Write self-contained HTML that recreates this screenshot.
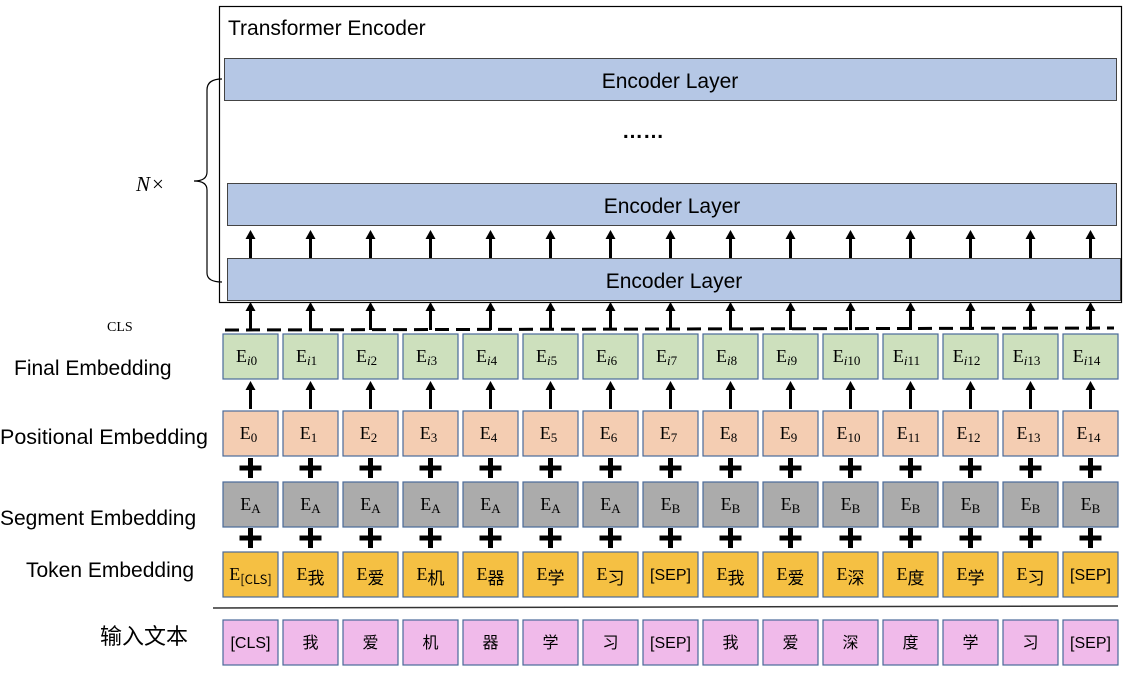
<!DOCTYPE html>
<html><head><meta charset="utf-8"><style>
html,body{margin:0;padding:0;background:#fff;width:1126px;height:677px;overflow:hidden}
svg text{font-family:"Liberation Serif","Noto Serif CJK SC",serif}
</style></head><body>
<svg width="1126" height="677" viewBox="0 0 1126 677" xmlns="http://www.w3.org/2000/svg">
<defs>
<g id="arr"><line x1="0" y1="28" x2="0" y2="8" stroke="#000" stroke-width="3"/><path d="M-5,9 L0,0 L5,9 z" fill="#000"/></g>
<g id="plus"><rect x="-11" y="-2.5" width="22" height="5" fill="#000"/><rect x="-2.5" y="-10" width="5" height="20" fill="#000"/></g>
</defs>
<rect x="219.5" y="6.5" width="902" height="296" fill="#fff" stroke="#000" stroke-width="1.2"/>
<text x="228" y="35" font-size="21" style="font-family:'Liberation Sans',sans-serif">Transformer Encoder</text>
<rect x="224.5" y="58.5" width="892" height="42" fill="#b5c7e5" stroke="#444" stroke-width="1"/>
<rect x="227.5" y="183.5" width="889" height="42" fill="#b5c7e5" stroke="#444" stroke-width="1"/>
<rect x="227.5" y="258.5" width="893" height="42" fill="#b5c7e5" stroke="#444" stroke-width="1"/>
<g font-size="21" text-anchor="middle">
<text x="670" y="88" style="font-family:'Liberation Sans',sans-serif">Encoder Layer</text>
<text x="672" y="213" style="font-family:'Liberation Sans',sans-serif">Encoder Layer</text>
<text x="674" y="288" style="font-family:'Liberation Sans',sans-serif">Encoder Layer</text>
<text x="643" y="138" font-weight="bold" style="font-family:'Liberation Sans',sans-serif">……</text>
</g>
<path d="M222,79 Q207,79 207,90 L207,172 Q207,181 194,181 Q207,181 207,190 L207,273 Q207,282 222,282" fill="none" stroke="#000" stroke-width="1.2"/>
<text x="136" y="191" font-size="21" font-style="italic">N</text><text x="152" y="191" font-size="21">×</text>
<text x="107" y="331" font-size="14">CLS</text>
<line x1="225" y1="330" x2="1114" y2="328" stroke="#000" stroke-width="3" stroke-dasharray="14,7"/>
<g font-size="21">
<text x="14" y="375" style="font-family:'Liberation Sans',sans-serif">Final Embedding</text>
<text x="0" y="444" font-size="21.5" style="font-family:'Liberation Sans',sans-serif">Positional Embedding</text>
<text x="0" y="525" style="font-family:'Liberation Sans',sans-serif">Segment Embedding</text>
<text x="26" y="577" style="font-family:'Liberation Sans',sans-serif">Token Embedding</text>
<text x="100" y="644" font-size="22" style="font-family:'Noto Sans CJK SC',sans-serif">输入文本</text>
</g>
<line x1="213" y1="608" x2="1118" y2="606" stroke="#333" stroke-width="1.5"/>
<g id="cols"></g>
</svg>
<script>
(function(){
var ns="http://www.w3.org/2000/svg",g=document.getElementById("cols");
function el(t,a,txt){var e=document.createElementNS(ns,t);for(var k in a)e.setAttribute(k,a[k]);if(txt!=null)e.textContent=txt;g.appendChild(e);return e;}
var tok=["[CLS]","我","爱","机","器","学","习","[SEP]","我","爱","深","度","学","习","[SEP]"];
for(var i=0;i<15;i++){
 var x=223+i*60,c=x+27.5;
 el("use",{href:"#arr",x:c,y:230});
 el("use",{href:"#arr",x:c,y:302});
 el("use",{href:"#arr",x:c,y:381});
 el("use",{href:"#plus",x:c,y:468});
 el("use",{href:"#plus",x:c,y:538});
 el("rect",{x:x,y:334,width:55,height:45,fill:"#cde0bd",stroke:"#4a6a9a","stroke-width":1.2});
 el("rect",{x:x,y:411,width:55,height:45,fill:"#f4cdb2",stroke:"#4a6a9a","stroke-width":1.2});
 el("rect",{x:x,y:482,width:55,height:45,fill:"#ababab",stroke:"#4a6a9a","stroke-width":1.2});
 el("rect",{x:x,y:552,width:55,height:45,fill:"#f5c043",stroke:"#4a6a9a","stroke-width":1.2});
 el("rect",{x:x,y:620,width:55,height:45,fill:"#f0baea",stroke:"#4a6a9a","stroke-width":1.2});
 var t=el("text",{x:c-4,y:362,"font-size":18,"text-anchor":"middle"});
 t.innerHTML='E<tspan font-size="13" dy="3"><tspan font-style="italic">i</tspan>'+i+'</tspan>';
 t=el("text",{x:c-2,y:439,"font-size":18,"text-anchor":"middle"});
 t.innerHTML='E<tspan font-size="13" dy="3">'+i+'</tspan>';
 t=el("text",{x:c,y:510,"font-size":18,"text-anchor":"middle"});
 t.innerHTML='E<tspan font-size="13" dy="3">'+(i<7?"A":"B")+'</tspan>';
 t=el("text",{x:c,y:580,"font-size":18,"text-anchor":"middle"});
 if(tok[i]=="[SEP]"){t.setAttribute("style","font-family:'Liberation Sans',sans-serif");t.setAttribute("font-size",16);t.textContent="[SEP]";}
 else t.innerHTML='E<tspan font-size="'+(i==0?13:17)+'" dy="4" style="font-family:\'Noto Sans CJK SC\',sans-serif">'+tok[i]+'</tspan>';
 t=el("text",{x:c,y:648,"font-size":16,"text-anchor":"middle",style:"font-family:'Liberation Sans','Noto Sans CJK SC',sans-serif"},tok[i]);
}
})();
</script>
</body></html>
